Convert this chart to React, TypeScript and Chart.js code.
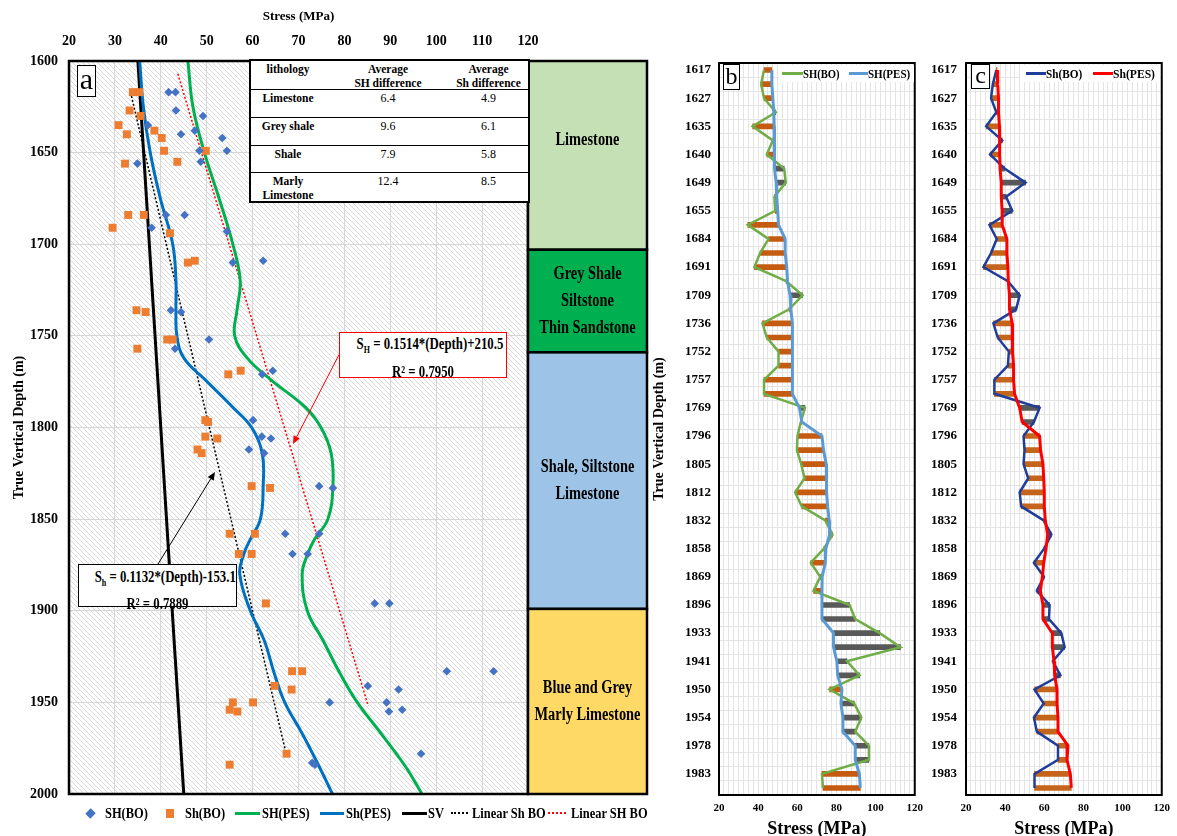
import React, { useEffect, useRef } from 'react';
import { Chart, registerables } from 'chart.js';

Chart.register(...registerables);

const SERIF = '"Liberation Serif", "Times New Roman", serif';

// ---------------- Panel (a) data ----------------
// SH(BO) – blue diamonds
const shBoStress = [41.7, 43.2, 43.3, 49.2, 37.2, 47.4, 44.4, 53.4, 48.4, 54.4, 48.7, 34.9, 41.1, 45.2, 38.0, 54.4, 55.7, 62.3,
  42.2, 44.4, 50.5, 43.1, 62.1, 64.4, 60.1, 62.0, 64.0, 59.2, 62.5, 74.5, 77.5, 67.1, 74.5, 68.7, 72.0,
  86.6, 89.8, 102.3, 112.5, 85.1, 91.8, 76.8, 89.2, 89.7, 92.6, 96.7, 73.0, 73.6];
const shBoDepth = [1617, 1617, 1627, 1630, 1635, 1638, 1640, 1642, 1649, 1649, 1655, 1656, 1684, 1684, 1691, 1693, 1710, 1709,
  1736, 1737, 1752, 1757, 1771, 1769, 1796, 1805, 1806, 1812, 1814, 1832, 1833, 1858, 1858, 1869, 1869,
  1896, 1896, 1933, 1933, 1941, 1943, 1950, 1950, 1955, 1954, 1978, 1983, 1984];
// Sh(BO) – orange squares
const shminBoStress = [33.9, 35.3, 33.2, 35.6, 30.8, 38.6, 32.6, 40.2, 40.7, 49.8, 32.2, 43.6, 32.9, 36.3, 29.5, 42.0, 45.9, 47.4,
  34.7, 36.7, 41.4, 42.6, 34.9, 54.7, 57.4, 49.7, 50.3, 49.7, 52.3, 48.0, 48.9, 59.8, 63.8, 55.0, 60.5, 57.0, 59.8,
  62.9, 68.6, 70.8, 64.8, 68.5, 55.7, 60.1, 55.0, 56.7, 67.4, 55.0];
const shminBoDepth = [1617, 1617, 1627, 1630, 1635, 1638, 1640, 1642, 1649, 1649, 1656, 1655, 1684, 1684, 1691, 1694, 1710, 1709,
  1736, 1737, 1752, 1752, 1757, 1771, 1769, 1796, 1797, 1805, 1806, 1812, 1814, 1832, 1833, 1858, 1858, 1869, 1869,
  1896, 1933, 1933, 1941, 1943, 1950, 1950, 1954, 1955, 1978, 1984];
// PES curves
const pesDepth = [1600, 1625, 1650, 1675, 1700, 1720, 1736, 1750, 1762, 1774, 1789, 1800, 1814, 1832, 1850, 1861, 1869, 1880, 1900, 1916, 1934, 1950, 1967, 1985, 2000];
const shPesStress = [45.9, 47.0, 49.5, 52.7, 55.7, 57.3, 56.6, 56.1, 58.8, 64.0, 71.5, 74.9, 77.1, 77.5, 76.4, 73.5, 72.0, 70.8, 71.9, 75.3, 79.0, 82.8, 88.0, 93.3, 96.9];
const shminPesStress = [35.4, 36.2, 37.7, 39.9, 42.6, 43.3, 43.3, 43.5, 45.0, 49.7, 55.7, 59.8, 62.1, 62.3, 61.7, 59.5, 58.1, 57.2, 59.5, 62.5, 64.7, 67.0, 70.8, 74.5, 77.4];
// SV and linear fits
const svStress = [35.0, 45.0];
const svDepth = [1600, 2000];
const linShminStress = [33.4, 67.4];
const linShminDepth = [1617, 1979];
const linShStress = [43.7, 85.2];
const linShDepth = [1607, 1952];
// lithology column
const lithoNames = [['Limestone'], ['Grey Shale', 'Siltstone', 'Thin Sandstone'], ['Shale, Siltstone', 'Limestone'], ['Blue and Grey', 'Marly Limestone']];
const lithoTop = [1600, 1703, 1759, 1899];
const lithoBottom = [1703, 1759, 1899, 2000];
const lithoColors = ['#c5e0b4', '#00b050', '#9dc3e6', '#ffd966'];
const lithoTextShift = [-15, 0, 0, 0];
// table
const tableLitho = ['Limestone', 'Grey shale', 'Shale', 'Marly Limestone'];
const tableSHdiff = [6.4, 9.6, 7.9, 12.4];
const tableShdiff = [4.9, 6.1, 5.8, 8.5];
// annotation arrows (data coordinates: stress, depth)
const arrowSHFrom = [78.8, 1760.4];
const arrowSHTo = [68.8, 1809.0];
const arrowShFrom = [39.4, 1874.5];
const arrowShTo = [51.8, 1824.3];

// ---------------- Panels (b) and (c) data ----------------
const depthLabels = ['1617', '1620', '1627', '1630', '1635', '1638', '1640', '1642', '1649', '1650', '1655', '1670', '1684', '1687',
  '1691', '1700', '1709', '1720', '1736', '1745', '1752', '1755', '1757', '1763', '1769', '1780', '1796', '1800', '1805', '1808',
  '1812', '1820', '1832', '1845', '1858', '1863', '1869', '1880', '1896', '1915', '1933', '1937', '1941', '1945', '1950', '1952',
  '1954', '1965', '1978', '1980', '1983', '1990'];
const bSHBO = [43.0, 41.5, 43.0, 49.0, 37.2, 47.5, 44.4, 53.3, 54.1, 48.3, 48.7, 34.7, 45.3, 41.0, 38.1, 54.3, 62.7, 55.8, 42.2, 44.4,
  50.4, 50.4, 43.0, 43.0, 63.9, 61.8, 60.1, 59.8, 62.0, 63.7, 58.9, 62.3, 74.3, 78.0, 73.6, 66.9, 71.7, 68.3, 86.7, 89.6,
  102.1, 112.7, 85.4, 91.8, 76.5, 89.1, 92.7, 89.6, 96.6, 96.6, 72.6, 73.1];
const bSHPES = [47.0, 47.0, 47.5, 48.0, 48.2, 48.5, 48.3, 48.3, 49.2, 49.5, 50.0, 50.4, 53.8, 53.8, 54.6, 55.0, 56.3, 56.7, 57.5, 57.5,
  57.5, 57.5, 57.5, 57.5, 61.1, 62.3, 72.6, 73.4, 74.8, 74.8, 75.1, 75.5, 76.3, 76.5, 74.6, 74.3, 72.7, 72.6, 72.6, 72.6,
  78.5, 78.5, 80.2, 80.6, 82.8, 82.3, 83.3, 83.3, 89.6, 89.6, 91.7, 92.2];
const cShBO = [35.5, 33.7, 32.8, 35.5, 30.3, 38.5, 32.3, 39.7, 50.4, 40.5, 43.6, 32.0, 35.7, 32.8, 28.9, 41.4, 47.4, 45.6, 34.0, 36.2,
  41.9, 41.4, 34.5, 34.5, 57.6, 54.7, 49.4, 49.9, 49.4, 51.8, 47.4, 48.2, 59.7, 63.6, 59.9, 54.7, 59.8, 56.2, 62.7, 62.4,
  68.7, 70.4, 64.4, 68.2, 55.0, 59.7, 54.7, 56.2, 67.0, 67.0, 55.0, 55.0];
const cShPES = [35.9, 36.2, 36.6, 36.6, 37.1, 37.3, 37.1, 37.4, 38.0, 38.0, 38.5, 38.5, 40.9, 40.9, 41.4, 41.6, 42.2, 42.2, 43.6, 43.6,
  43.9, 44.3, 44.3, 44.8, 47.4, 48.7, 57.6, 58.1, 59.3, 59.7, 60.0, 60.0, 60.5, 61.7, 60.9, 59.7, 59.0, 58.0, 59.3, 59.3,
  64.1, 64.1, 65.0, 65.3, 66.5, 66.5, 67.0, 67.0, 72.1, 71.6, 73.3, 73.8];

const pts = (xs: number[], ys: number[]) => xs.map((x, i) => ({ x, y: ys[i] }));

function drawArrow(ctx: CanvasRenderingContext2D, x1: number, y1: number, x2: number, y2: number, color: string) {
  const ang = Math.atan2(y2 - y1, x2 - x1);
  const hl = 8, hw = 3.5;
  const bx = x2 - hl * Math.cos(ang), by = y2 - hl * Math.sin(ang);
  ctx.save();
  ctx.strokeStyle = color; ctx.fillStyle = color; ctx.lineWidth = 1;
  ctx.beginPath(); ctx.moveTo(x1, y1); ctx.lineTo(bx, by); ctx.stroke();
  ctx.beginPath(); ctx.moveTo(x2, y2);
  ctx.lineTo(bx + hw * Math.sin(ang), by - hw * Math.cos(ang));
  ctx.lineTo(bx - hw * Math.sin(ang), by + hw * Math.cos(ang));
  ctx.closePath(); ctx.fill();
  ctx.restore();
}

const hatchPlugin = {
  id: 'hatch',
  beforeDraw(chart: any) {
    const { ctx, chartArea: a } = chart;
    const p = document.createElement('canvas');
    p.width = 5; p.height = 5;
    const pc = p.getContext('2d')!;
    pc.strokeStyle = '#d9d9d9'; pc.lineWidth = 1;
    pc.beginPath(); pc.moveTo(-1, -1); pc.lineTo(6, 6); pc.stroke();
    pc.beginPath(); pc.moveTo(-1, 4); pc.lineTo(1, 6); pc.stroke();
    pc.beginPath(); pc.moveTo(4, -1); pc.lineTo(6, 1); pc.stroke();
    ctx.save();
    ctx.fillStyle = '#ffffff';
    ctx.fillRect(a.left, a.top, a.width, a.height);
    const pat = ctx.createPattern(p, 'repeat');
    if (pat) { ctx.fillStyle = pat; ctx.fillRect(a.left, a.top, a.width, a.height); }
    ctx.restore();
  },
};

const framePlugin = {
  id: 'frame',
  afterDraw(chart: any, _args: any, opts: any) {
    const { ctx, chartArea: a } = chart;
    ctx.save();
    ctx.strokeStyle = '#000';
    ctx.lineWidth = opts.width || 2;
    ctx.strokeRect(a.left, a.top, a.width, a.height);
    ctx.restore();
  },
};

const lithoPlugin = {
  id: 'litho',
  afterDraw(chart: any) {
    const { ctx, chartArea: a, scales } = chart;
    const y = scales.y;
    const x0 = a.right, w = 119;
    ctx.save();
    lithoNames.forEach((lines, i) => {
      const top = y.getPixelForValue(lithoTop[i]);
      const bot = y.getPixelForValue(lithoBottom[i]);
      ctx.fillStyle = lithoColors[i];
      ctx.fillRect(x0, top, w, bot - top);
      ctx.lineWidth = 2.5; ctx.strokeStyle = '#000';
      ctx.strokeRect(x0, top, w, bot - top);
      const cy = (top + bot) / 2 + lithoTextShift[i];
      ctx.fillStyle = '#000';
      ctx.font = `bold 18px ${SERIF}`;
      ctx.textAlign = 'center'; ctx.textBaseline = 'middle';
      lines.forEach((ln, k) => {
        const ly = cy + (k - (lines.length - 1) / 2) * 27;
        ctx.save();
        ctx.translate(x0 + w / 2, ly);
        ctx.scale(0.8, 1);
        ctx.fillText(ln, 0, 0);
        ctx.restore();
      });
    });
    // annotation arrows
    const xs = scales.x;
    drawArrow(ctx, xs.getPixelForValue(arrowSHFrom[0]), y.getPixelForValue(arrowSHFrom[1]),
      xs.getPixelForValue(arrowSHTo[0]), y.getPixelForValue(arrowSHTo[1]), '#ff0000');
    drawArrow(ctx, xs.getPixelForValue(arrowShFrom[0]), y.getPixelForValue(arrowShFrom[1]),
      xs.getPixelForValue(arrowShTo[0]), y.getPixelForValue(arrowShTo[1]), '#000000');
    ctx.restore();
  },
};

function configA(): any {
  const lineBase = { showLine: true, pointRadius: 0, pointHoverRadius: 0, fill: false };
  return {
    type: 'scatter',
    data: {
      datasets: [
        { label: 'SH(BO)', data: pts(shBoStress, shBoDepth), pointStyle: 'rectRot', pointRadius: 4.3, backgroundColor: '#4472c4', borderColor: '#4472c4', borderWidth: 0, order: 0 },
        { label: 'Sh(BO)', data: pts(shminBoStress, shminBoDepth), pointStyle: 'rect', pointRadius: 5.6, backgroundColor: '#ed7d31', borderColor: '#ed7d31', borderWidth: 0, order: 0 },
        { ...lineBase, label: 'SH(PES)', data: pts(shPesStress, pesDepth), borderColor: '#00b050', borderWidth: 3, tension: 0.4, order: 1 },
        { ...lineBase, label: 'Sh(PES)', data: pts(shminPesStress, pesDepth), borderColor: '#0070c0', borderWidth: 3, tension: 0.4, order: 1 },
        { ...lineBase, label: 'SV', data: pts(svStress, svDepth), borderColor: '#000000', borderWidth: 3, order: 1 },
        { ...lineBase, label: 'Linear Sh BO', data: pts(linShminStress, linShminDepth), borderColor: '#000000', borderWidth: 1.5, borderDash: [2, 2], order: 1 },
        { ...lineBase, label: 'Linear SH BO', data: pts(linShStress, linShDepth), borderColor: '#ff0000', borderWidth: 1.5, borderDash: [2, 2], order: 1 },
      ],
    },
    options: {
      animation: false,
      responsive: false,
      layout: { padding: { left: 0, right: 132, top: 0, bottom: 42 } },
      plugins: { legend: { display: false }, tooltip: { enabled: false }, frame: { width: 2.5 } },
      scales: {
        x: {
          type: 'linear', position: 'top', min: 20, max: 120,
          ticks: { stepSize: 10, padding: 11, color: '#000', font: { size: 14, weight: 'bold' }, callback: (v: number) => String(v) },
          grid: { color: '#d6d6d6', drawTicks: false },
          border: { display: false },
          title: { display: true, text: 'Stress (MPa)', color: '#000', font: { size: 13, weight: 'bold' }, padding: { top: 9, bottom: 0 } },
          afterFit: (s: any) => { s.height = 61; },
        },
        y: {
          type: 'linear', reverse: true, min: 1600, max: 2000,
          ticks: { stepSize: 50, padding: 11, color: '#000', font: { size: 14, weight: 'bold' }, callback: (v: number) => String(v) },
          grid: { color: '#d6d6d6', drawTicks: false },
          border: { display: false },
          title: { display: true, text: 'True Vertical Depth (m)', color: '#000', font: { size: 14, weight: 'bold' }, padding: { top: 11, bottom: 0 } },
          afterFit: (s: any) => { s.width = 69; },
        },
      },
    },
    plugins: [hatchPlugin, framePlugin, lithoPlugin],
  };
}

function profileConfig(bo: number[], pes: number[], boLabel: string, pesLabel: string, boColor: string, pesColor: string, barColor: string, yTitle: boolean, axisWidth: number, tickPad: number): any {
  const floating = bo.map((v, i) => [Math.min(v, pes[i]), Math.max(v, pes[i])]);
  const colors = bo.map((v, i) => (v < pes[i] ? barColor : '#595959'));
  return {
    type: 'bar',
    data: {
      labels: depthLabels,
      datasets: [
        { type: 'line', label: boLabel, data: bo, borderColor: boColor, borderWidth: 2.5, pointRadius: 0, pointHoverRadius: 0, order: 1, indexAxis: 'y' },
        { type: 'line', label: pesLabel, data: pes, borderColor: pesColor, borderWidth: 3, pointRadius: 0, pointHoverRadius: 0, order: 0, indexAxis: 'y' },
        { type: 'bar', label: 'difference', data: floating, backgroundColor: colors, barThickness: 5, order: 2, indexAxis: 'y' },
      ],
    },
    options: {
      indexAxis: 'y',
      animation: false,
      responsive: false,
      layout: { padding: { left: 0, right: 15, top: 63, bottom: 0 } },
      plugins: { legend: { display: false }, tooltip: { enabled: false }, frame: { width: 2 } },
      scales: {
        x: {
          type: 'linear', position: 'bottom', min: 20, max: 120,
          ticks: {
            stepSize: 2.5, autoSkip: false, maxRotation: 0, padding: 7, color: '#000', font: { size: 11, weight: 'bold' },
            callback: (v: number) => (Math.abs(v % 20) < 1e-6 ? String(v) : ''),
          },
          grid: { color: '#e4e4e4', drawTicks: false },
          border: { display: false },
          title: { display: true, text: 'Stress (MPa)', color: '#000', font: { size: 18, weight: 'bold' }, padding: { top: 0, bottom: 5 } },
          afterFit: (s: any) => { s.height = 50; },
        },
        y: {
          type: 'category', position: 'left', offset: true,
          ticks: {
            autoSkip: false, padding: tickPad, color: '#000', font: { size: 13, weight: 'bold' },
            callback: (_v: any, i: number) => (i % 2 === 0 ? depthLabels[i] : ''),
          },
          grid: { color: '#e4e4e4', drawTicks: false, offset: true },
          border: { display: false },
          title: { display: yTitle, text: 'True Vertical Depth (m)', color: '#000', font: { size: 14, weight: 'bold' }, padding: { top: 11, bottom: 0 } },
          afterFit: (s: any) => { s.width = axisWidth; },
        },
      },
    },
    plugins: [framePlugin],
  };
}

const abs = (left: number, top: number, extra: any = {}): any => ({ position: 'absolute', left, top, ...extra });

function LegendText({ left, top, text, size = 15, scale = 0.83 }: any) {
  return (
    <span style={abs(left, top, { fontSize: size, fontWeight: 'bold', lineHeight: '18px', whiteSpace: 'nowrap', transform: `scaleX(${scale})`, transformOrigin: 'left center' })}>{text}</span>
  );
}

export default function App() {
  const aRef = useRef<HTMLCanvasElement>(null);
  const bRef = useRef<HTMLCanvasElement>(null);
  const cRef = useRef<HTMLCanvasElement>(null);

  useEffect(() => {
    Chart.defaults.font.family = SERIF;
    Chart.defaults.color = '#000';
    const ca = new Chart(aRef.current as HTMLCanvasElement, configA());
    const cb = new Chart(bRef.current as HTMLCanvasElement,
      profileConfig(bSHBO, bSHPES, 'SH(BO)', 'SH(PES)', '#70ad47', '#5b9bd5', '#c55a11', true, 79, 8));
    const cc = new Chart(cRef.current as HTMLCanvasElement,
      profileConfig(cShBO, cShPES, 'Sh(BO)', 'Sh(PES)', '#1f3d99', '#ff0000', '#c5651b', false, 46, 9));
    return () => { ca.destroy(); cb.destroy(); cc.destroy(); };
  }, []);

  const cell: any = { textAlign: 'center', paddingTop: 1, lineHeight: '14px', fontSize: 11.5 };
  const rowH = [28, 28, 27, 28];

  return (
    <div style={{ position: 'fixed', left: 0, top: 0, width: 1177, height: 836, background: '#fff', overflow: 'hidden', fontFamily: SERIF, color: '#000' }}>
      <canvas ref={aRef} width={660} height={836} style={abs(0, 0, { width: 660, height: 836 })} />
      <canvas ref={bRef} width={290} height={845} style={abs(640, 0, { width: 290, height: 845 })} />
      <canvas ref={cRef} width={257} height={845} style={abs(920, 0, { width: 257, height: 845 })} />

      {/* panel a label */}
      <div style={abs(77, 65, { width: 19, height: 32, boxSizing: 'border-box', border: '1.5px solid #000', background: '#fff', fontSize: 30, lineHeight: '26px', textAlign: 'center' })}>a</div>

      {/* table */}
      <div style={abs(249, 59, { width: 281, height: 144, boxSizing: 'border-box', border: '2px solid #000', background: '#fff' })}>
        <div style={{ display: 'flex', height: 29, boxSizing: 'border-box', borderBottom: '1px solid #000', fontWeight: 'bold' }}>
          <div style={{ ...cell, width: 74 }}>lithology</div>
          <div style={{ ...cell, width: 126 }}>Average<br />SH difference</div>
          <div style={{ ...cell, width: 75 }}>Average<br />Sh difference</div>
        </div>
        {tableLitho.map((name, i) => (
          <div key={name} style={{ display: 'flex', height: rowH[i], boxSizing: 'border-box', borderBottom: i < tableLitho.length - 1 ? '1px solid #000' : 'none' }}>
            <div style={{ ...cell, width: 74, fontWeight: 'bold' }}>{name}</div>
            <div style={{ ...cell, width: 126, fontSize: 12 }}>{tableSHdiff[i].toFixed(1)}</div>
            <div style={{ ...cell, width: 75, fontSize: 12 }}>{tableShdiff[i].toFixed(1)}</div>
          </div>
        ))}
      </div>

      {/* regression boxes */}
      <div style={abs(339, 332, { width: 168, height: 46, boxSizing: 'border-box', border: '1.5px solid #ff0000', background: '#fff', fontWeight: 'bold', fontSize: 16, textAlign: 'center' })}>
        <div style={{ lineHeight: '22px', marginTop: 0, transform: 'scaleX(0.8)', whiteSpace: 'nowrap' }}>S<span style={{ fontSize: 10, verticalAlign: -4 }}>H</span> = 0.1514*(Depth)+210.5</div>
        <div style={{ lineHeight: '22px', transform: 'scaleX(0.8)', whiteSpace: 'nowrap' }}>R² = 0.7950</div>
      </div>
      <div style={abs(78, 564, { width: 159, height: 43, boxSizing: 'border-box', border: '1.5px solid #000', background: '#fff', fontWeight: 'bold', fontSize: 16, textAlign: 'center' })}>
        <div style={{ lineHeight: '22px', marginTop: 1, transform: 'scaleX(0.8)', whiteSpace: 'nowrap' }}>S<span style={{ fontSize: 10, verticalAlign: -4 }}>h</span> = 0.1132*(Depth)-153.1</div>
        <div style={{ lineHeight: '20px', transform: 'scaleX(0.8)', whiteSpace: 'nowrap' }}>R² = 0.7889</div>
      </div>

      {/* panel a legend */}
      <div style={abs(87, 809.5, { width: 7, height: 7, background: '#4472c4', transform: 'rotate(45deg) scaleY(1.1)' })} />
      <LegendText left={105} top={804} text="SH(BO)" />
      <div style={abs(166, 809, { width: 8, height: 9, background: '#ed7d31' })} />
      <LegendText left={185} top={804} text="Sh(BO)" />
      <div style={abs(235, 811.5, { width: 25, height: 3, background: '#00b050' })} />
      <LegendText left={262} top={804} text="SH(PES)" />
      <div style={abs(320, 811.5, { width: 24, height: 3, background: '#0070c0' })} />
      <LegendText left={346} top={804} text="Sh(PES)" />
      <div style={abs(402, 811.5, { width: 25, height: 3, background: '#000' })} />
      <LegendText left={428} top={804} text="SV" />
      <div style={abs(451, 812, { width: 17, height: 0, borderTop: '2px dotted #000' })} />
      <LegendText left={472} top={804} text="Linear Sh BO" />
      <div style={abs(548, 812, { width: 18, height: 0, borderTop: '2px dotted #ff0000' })} />
      <LegendText left={571} top={804} text="Linear SH BO" />

      {/* panel b label + legend */}
      <div style={abs(723, 64, { width: 17, height: 26, boxSizing: 'border-box', border: '1.5px solid #000', background: '#fff', fontSize: 24, lineHeight: '22px', textAlign: 'center' })}>b</div>
      <div style={abs(779, 65, { width: 135, height: 17, background: '#fff' })} />
      <div style={abs(782, 72, { width: 21, height: 3, background: '#70ad47' })} />
      <LegendText left={803} top={64.5} text="SH(BO)" size={12.5} scale={0.85} />
      <div style={abs(849, 72, { width: 19, height: 3, background: '#5b9bd5' })} />
      <LegendText left={868} top={64.5} text="SH(PES)" size={12.5} scale={0.88} />

      {/* panel c label + legend */}
      <div style={abs(971, 64, { width: 19, height: 25, boxSizing: 'border-box', border: '1.5px solid #000', background: '#fff', fontSize: 24, lineHeight: '20px', textAlign: 'center' })}>c</div>
      <div style={abs(1020, 65, { width: 140, height: 17, background: '#fff' })} />
      <div style={abs(1026, 72, { width: 20, height: 3, background: '#1f3d99' })} />
      <LegendText left={1046} top={64.5} text="Sh(BO)" size={12.5} scale={0.9} />
      <div style={abs(1093, 72, { width: 20, height: 3, background: '#ff0000' })} />
      <LegendText left={1113} top={64.5} text="Sh(PES)" size={12.5} scale={0.93} />
    </div>
  );
}
